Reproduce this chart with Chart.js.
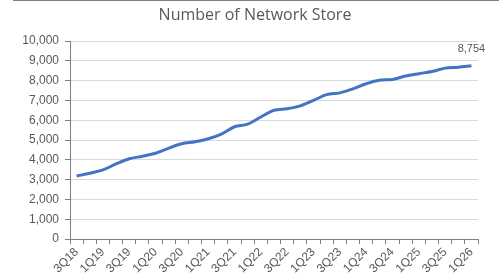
<!DOCTYPE html>
<html>
<head>
<meta charset="utf-8">
<script src="https://cdn.jsdelivr.net/npm/chart.js@4"></script>
<style>
  html, body { margin: 0; padding: 0; background: #fff; }
  #wrap { position: relative; width: 499px; height: 278px; }
  #topline { position: absolute; left: 13px; right: 0; top: 0; height: 1px; background: #7f7f7f; }
</style>
</head>
<body>
<div id="wrap">
  <canvas id="grafico" width="499" height="278"></canvas>
  <div id="topline"></div>
</div>
<script>
// trimestres 3Q18 .. 1Q26
const quarters = [
  '3Q18', '4Q18',
  '1Q19', '2Q19', '3Q19', '4Q19',
  '1Q20', '2Q20', '3Q20', '4Q20',
  '1Q21', '2Q21', '3Q21', '4Q21',
  '1Q22', '2Q22', '3Q22', '4Q22',
  '1Q23', '2Q23', '3Q23', '4Q23',
  '1Q24', '2Q24', '3Q24', '4Q24',
  '1Q25', '2Q25', '3Q25', '4Q25',
  '1Q26'
];
const stores = [
  3180, 3320, 3490, 3790, 4050, 4180, 4330, 4590, 4810, 4910,
  5060, 5300, 5670, 5800, 6160, 6500, 6580, 6720, 7000, 7290,
  7380, 7580, 7840, 8020, 8060, 8230, 8350, 8460, 8630, 8680,
  8754
];
const yTicks = [0, 1000, 2000, 3000, 4000, 5000, 6000, 7000, 8000, 9000, 10000];
const titulo = 'Number of Network Store';

const axisFont = { family: 'Liberation Sans', size: 12 };
const grey = '#595959';

// titulo y etiqueta del ultimo punto
const textos = {
  id: 'textos',
  afterDraw(chart) {
    const ctx = chart.ctx;
    ctx.save();
    ctx.fillStyle = grey;
    ctx.textAlign = 'center';
    ctx.textBaseline = 'middle';
    ctx.font = '16px "Open Sans"';
    ctx.fillText(titulo, 255, 15);

    const meta = chart.getDatasetMeta(0);
    const pt = meta.data[meta.data.length - 1];
    ctx.font = '11px "Liberation Sans"';
    ctx.fillText(stores[stores.length - 1].toLocaleString('en-US'), pt.x, pt.y - 17);
    ctx.restore();
  }
};

new Chart(document.getElementById('grafico'), {
  type: 'line',
  data: {
    labels: quarters,
    datasets: [{
      data: stores,
      borderColor: '#4472C4',
      borderWidth: 3,
      pointRadius: 0,
      cubicInterpolationMode: 'monotone',
      fill: false
    }]
  },
  options: {
    responsive: false,
    animation: false,
    layout: { padding: { left: 0, right: 21, top: 41, bottom: 0 } },
    plugins: {
      legend: { display: false },
      tooltip: { enabled: false },
      title: { display: false }
    },
    scales: {
      x: {
        offset: true,
        grid: {
          offset: true,
          drawOnChartArea: false,
          drawTicks: true,
          tickLength: 5,
          tickColor: '#7f7f7f'
        },
        border: { display: true, color: '#7f7f7f', width: 1 },
        ticks: {
          autoSkip: false,
          maxRotation: 45,
          minRotation: 45,
          padding: 1,
          color: grey,
          font: axisFont,
          callback: function (val, i) { return i % 2 === 0 ? quarters[i] : ''; }
        },
        afterFit: s => { s.height = 39; }
      },
      y: {
        min: 0,
        max: 10000,
        afterBuildTicks: s => { s.ticks = yTicks.map(v => ({ value: v })); },
        grid: {
          color: '#d9d9d9',
          lineWidth: 1,
          tickLength: 5,
          tickColor: '#7f7f7f'
        },
        border: { display: true, color: '#7f7f7f', width: 1 },
        ticks: {
          color: grey,
          font: axisFont,
          padding: 6,
          callback: v => v.toLocaleString('en-US')
        },
        afterFit: s => { s.width = 70; }
      }
    }
  },
  plugins: [textos]
});
</script>
</body>
</html>
